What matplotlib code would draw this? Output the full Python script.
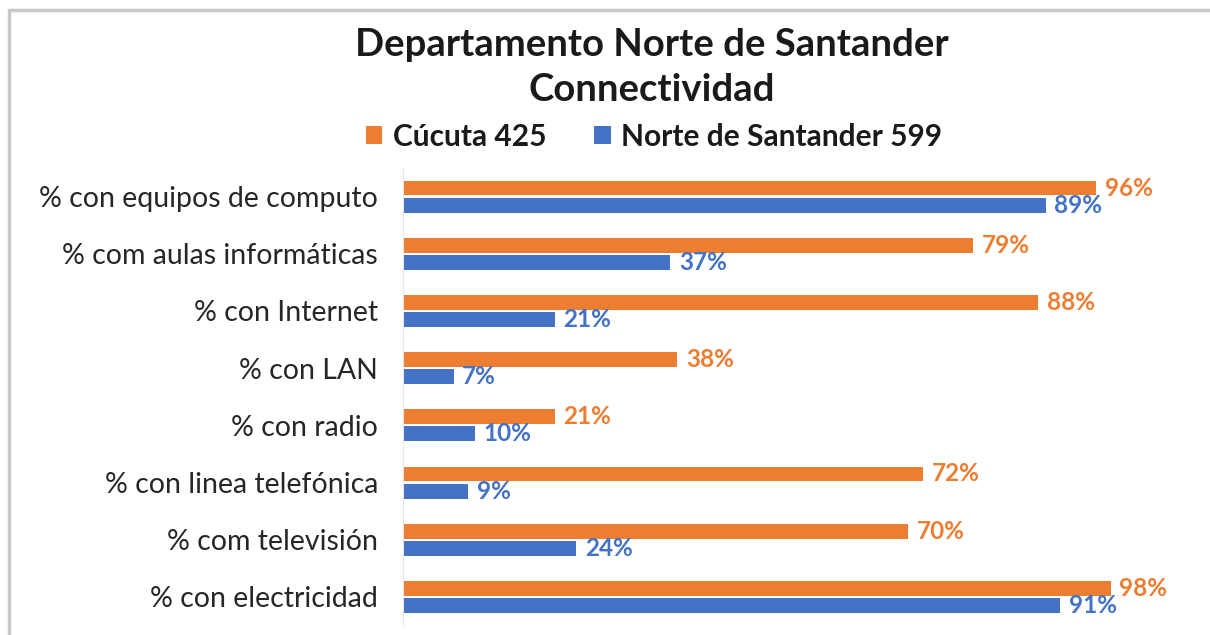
import numpy as np
import matplotlib.pyplot as plt
from matplotlib.patches import Rectangle

# Connectivity indicators, listed top to bottom
categories = ["% con equipos de computo", "% com aulas informáticas", "% con Internet",
              "% con LAN", "% con radio", "% con linea telefónica",
              "% com televisión", "% con electricidad"]
cucuta = [96, 79, 88, 38, 21, 72, 70, 98]
norte = [89, 37, 21, 7, 10, 9, 24, 91]
series_names = ["Cúcuta 425", "Norte de Santander 599"]

orange = "#ED7D31"
blue = "#4472C4"

plt.rcParams['font.family'] = ['Lato', 'DejaVu Sans']

fig = plt.figure(figsize=(12.1, 6.35), dpi=100)
ax = fig.add_axes([403 / 1210, 1 - 625.5 / 635, 722 / 1210, (625.5 - 168) / 635])

y = np.arange(len(categories))
h = 0.26
b1 = ax.barh(y - h / 2 - 0.02, cucuta, height=h, color=orange, label=series_names[0])
b2 = ax.barh(y + h / 2 + 0.02, norte, height=h, color=blue, label=series_names[1])

for bars, vals, col in [(b1, cucuta, orange), (b2, norte, blue)]:
    for bar, v in zip(bars, vals):
        ax.text(v + 1.2, bar.get_y() + bar.get_height() / 2, f"{v}%", va='center', ha='left',
                color=col, fontsize=17.5, fontweight='bold', clip_on=False)

ax.set_xlim(0, 100)
ax.set_ylim(len(categories) - 0.5, -0.5)
ax.set_yticks(y)
ax.set_yticklabels(categories, fontsize=20.5, color="#262626")
ax.tick_params(axis='y', length=0, pad=18)
ax.set_xticks([])
for s in ['top', 'right', 'bottom']:
    ax.spines[s].set_visible(False)
ax.spines['left'].set_color("#e6e6e6")

fig.text(652 / 1210, 1 - 45 / 635, "Departamento Norte de Santander", ha='center', va='center',
         fontsize=27.5, fontweight='bold', color="#1a1a1a")
fig.text(652 / 1210, 1 - 90 / 635, "Connectividad", ha='center', va='center',
         fontsize=27.5, fontweight='bold', color="#1a1a1a")

fig.legend(handles=[b1, b2], loc='center', bbox_to_anchor=(654 / 1210, 1 - 137 / 635), ncol=2,
           frameon=False, prop={'size': 21.5, 'weight': 'bold'}, handlelength=0.55, handleheight=0.55,
           handletextpad=0.35, columnspacing=1.6, labelcolor="#1a1a1a")

# light gray frame around the chart area
fig.patches.append(Rectangle((9 / 1210, -0.1), 1.2, 1 - 10 / 635 + 0.1, transform=fig.transFigure,
                             fill=False, edgecolor="#c8c8c8", linewidth=2.5))

fig.savefig("out.png", dpi=100)
